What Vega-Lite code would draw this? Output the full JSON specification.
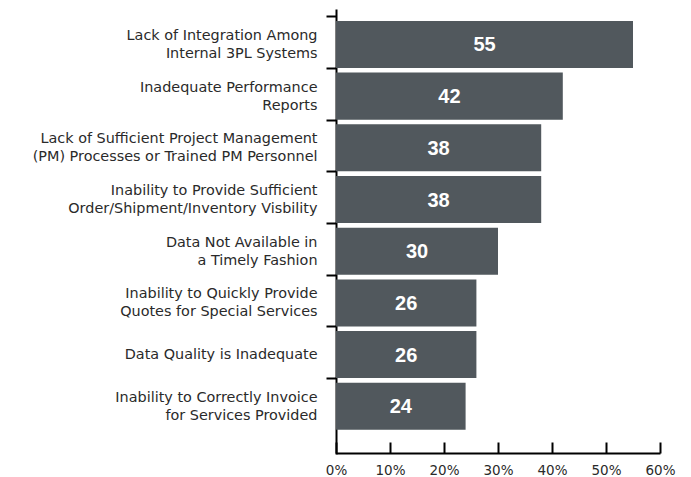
{
  "$schema": "https://vega.github.io/schema/vega-lite/v6.json",
  "width": 324,
  "height": 443,
  "autosize": {"type": "none"},
  "padding": {"left": 336, "top": 10, "right": 31, "bottom": 24},
  "background": "white",
  "config": {"view": {"stroke": null}},
  "data": {
    "values": [
      {"label": "Lack of Integration Among|Internal 3PL Systems", "value": 55},
      {"label": "Inadequate Performance|Reports", "value": 42},
      {"label": "Lack of Sufficient Project Management|(PM) Processes or Trained PM Personnel", "value": 38},
      {"label": "Inability to Provide Sufficient|Order/Shipment/Inventory Visbility", "value": 38},
      {"label": "Data Not Available in|a Timely Fashion", "value": 30},
      {"label": "Inability to Quickly Provide|Quotes for Special Services", "value": 26},
      {"label": "Data Quality is Inadequate", "value": 26},
      {"label": "Inability to Correctly Invoice|for Services Provided", "value": 24}
    ]
  },
  "encoding": {
    "y": {
      "field": "label",
      "type": "nominal",
      "sort": null,
      "scale": {"paddingInner": 0.09, "paddingOuter": 0.33, "align": 0.32},
      "axis": {
        "title": null,
        "labelExpr": "split(datum.label, '|')",
        "labelFont": "DejaVu Sans",
        "labelFontSize": 14.4,
        "labelColor": "#2a2a2a",
        "labelLineHeight": 18,
        "labelPadding": 9,
        "labelLimit": 340,
        "labelOffset": {"condition": {"test": "indexof(datum.value, '|') >= 0", "value": 19.2}, "value": 28.2},
        "tickSize": 10,
        "tickWidth": 2,
        "tickColor": "#000000",
        "tickOffset": -28.2,
        "domainColor": "#000000",
        "domainWidth": 2,
        "domainCap": "square"
      }
    }
  },
  "layer": [
    {
      "mark": {"type": "bar", "color": "#51585d"},
      "encoding": {
        "x": {
          "field": "value",
          "type": "quantitative",
          "scale": {"domain": [0, 60], "nice": false},
          "axis": {
            "title": null,
            "values": [0, 10, 20, 30, 40, 50, 60],
            "labelExpr": "datum.value + '%'",
            "labelFont": "DejaVu Sans",
            "labelFontSize": 13.5,
            "labelColor": "#2a2a2a",
            "labelPadding": 21,
            "tickSize": -11,
            "tickWidth": 2,
            "tickColor": "#000000",
            "domainColor": "#000000",
            "domainWidth": 2,
            "grid": false,
            "labelFlush": false
          }
        }
      }
    },
    {
      "mark": {"type": "text", "color": "white", "fontWeight": "bold", "fontSize": 20, "font": "Liberation Sans", "baseline": "middle", "align": "center", "dy": 1},
      "encoding": {
        "x": {"field": "value", "type": "quantitative", "scale": {"domain": [0, 120], "nice": false}, "axis": null},
        "text": {"field": "value", "type": "quantitative"}
      }
    }
  ],
  "resolve": {"scale": {"x": "independent"}}
}
